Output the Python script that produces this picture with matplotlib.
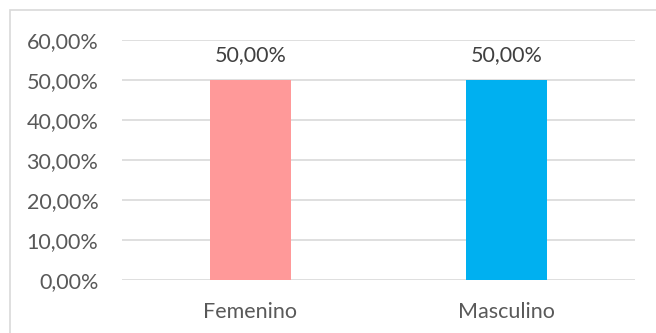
import matplotlib.pyplot as plt
from matplotlib.patches import Rectangle

categories = ['Femenino', 'Masculino']
values = [0.50, 0.50]
colors = ['#FF9999', '#00B0F0']
yticks = [0.0, 0.1, 0.2, 0.3, 0.4, 0.5, 0.6]

plt.rcParams['font.family'] = ['Lato', 'DejaVu Sans']

fig = plt.figure(figsize=(6.56, 3.33), dpi=100)
# chart frame, open to the right and bottom
fig.patches.append(Rectangle((10 / 656, -0.05), 1.2, 1.05 - 10 / 333,
                             transform=fig.transFigure, fill=False,
                             edgecolor='#D9D9D9', linewidth=1.2))

ax = fig.add_axes([122 / 656, 1 - 280 / 333, 513 / 656, 240 / 333])
x = range(len(categories))
bars = ax.bar(x, values, width=0.316, color=colors, zorder=3)

ax.set_ylim(0, 0.6)
ax.set_xlim(-0.5, 1.5)
ax.set_yticks(yticks)
ax.set_yticklabels([f'{v * 100:.2f}%'.replace('.', ',') for v in yticks])
ax.set_xticks(list(x))
ax.set_xticklabels(categories)
ax.tick_params(axis='y', length=0, pad=17, labelsize=15.5, colors='#595959')
ax.tick_params(axis='x', length=0, pad=16, labelsize=15.5, colors='#595959')
ax.grid(axis='y', color='#D9D9D9', linewidth=1.2, zorder=0)
for s in ax.spines.values():
    s.set_visible(False)

for b, v in zip(bars, values):
    ax.annotate(f'{v * 100:.2f}%'.replace('.', ','),
                (b.get_x() + b.get_width() / 2, v),
                xytext=(0, 11), textcoords='offset points',
                ha='center', va='bottom', fontsize=15.5, color='#404040')

fig.savefig('out.png', dpi=100)
